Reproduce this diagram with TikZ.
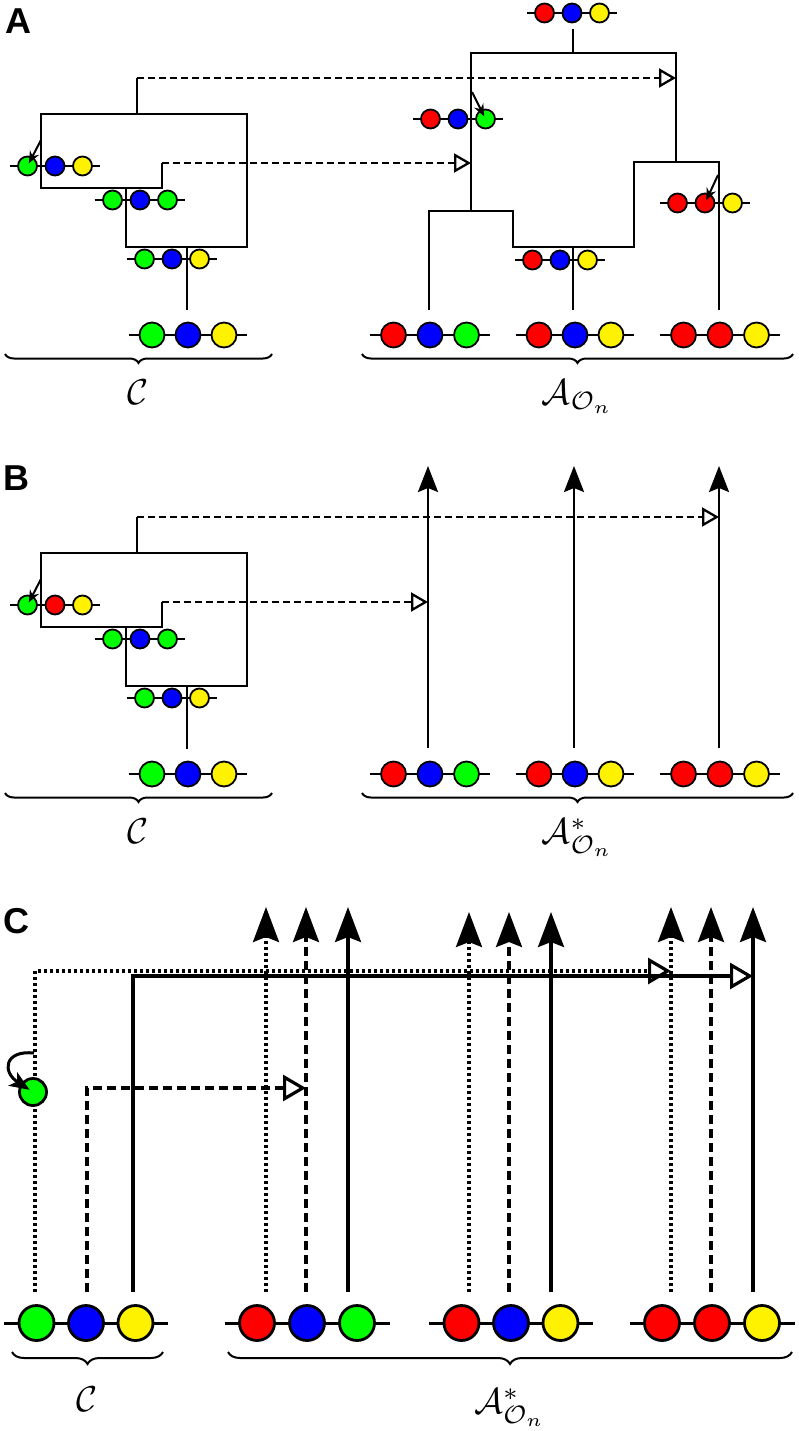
\documentclass[tikz,border=0pt]{standalone}
\usepackage{fontspec}
\newfontfamily\panelfont{Liberation Sans}
\usetikzlibrary{arrows.meta}
\usetikzlibrary{decorations.pathreplacing}
\usetikzlibrary{calc}
\tikzset{
  bead/.style={circle, draw=black, line width=1.8pt, inner sep=0pt},
  backbone/.style={line width=1.8pt},
  tree/.style={line width=2.3pt},
  xfer/.style={line width=2.3pt, dash pattern=on 7pt off 4pt, -{Triangle[open,length=17pt,width=19pt]}},
  lineage/.style={line width=2.3pt, -{Stealth[length=26pt,width=20pt,inset=4pt]}},
  mutation/.style={line width=2pt, shorten >=3pt, -{Stealth[length=12pt,width=10pt]}},
  brc/.style={decorate, decoration={brace, mirror, amplitude=9pt}, line width=2pt},
  setlabel/.style={midway, below=#1, inner sep=0pt, scale=3.6},
  setlabel/.default=22pt,
  panel/.style={inner sep=0pt, font=\panelfont\bfseries\fontsize{36}{40}\selectfont},
  cdot/.style={line width=3.2pt, dash pattern=on 3pt off 3pt},
  cdash/.style={line width=3.2pt, dash pattern=on 9pt off 5pt},
  csolid/.style={line width=3.2pt},
  ctip/.style={-{Stealth[length=35pt,width=26pt,inset=5pt]}},
  copen/.style={-{Triangle[open,length=23pt,width=26pt]}},
}
\newcommand{\chain}[7]{
  \coordinate (#1) at (#2);
  \draw[backbone] ([xshift=-1.65*#3]#1) -- ([xshift=1.65*#3]#1);
  \node (#1-1) [bead, minimum size=#4, fill=#5] at ([xshift=-#3]#1) {};
  \node (#1-2) [bead, minimum size=#4, fill=#6] at (#1) {};
  \node (#1-3) [bead, minimum size=#4, fill=#7] at ([xshift=#3]#1) {};
}

\begin{document}
\begin{tikzpicture}[x=1pt, y=-1pt]
  \useasboundingbox (0,0) rectangle (798,1431);

  \node (pA) [panel] at (18,21)  {A};
  \node (pB) [panel] at (16,478) {B};
  \node (pC) [panel] at (16,921) {C};

  \coordinate (aroot) at (137,78);
  \coordinate (aleaf) at (162,163);
  \coordinate (amut)  at (41,140);
  \coordinate (rtop)  at (676,78);
  \coordinate (rleft) at (471,163);
  \coordinate (rmut1) at (472,92);
  \coordinate (rmut2) at (718,175);

  \draw[tree] (aroot) -- (137,114);
  \draw[tree] (aleaf) -- (162,188) -- (41,188) -- (41,114) -- (247,114) -- (247,247) -- (126,247) -- (126,188);
  \draw[tree] (187,247) -- (187,310);
  \draw[tree] (573,29) -- (573,53);
  \draw[tree] (471,211) -- (471,53) -- (676,53) -- (676,162);
  \draw[tree] (429,310) -- (429,211) -- (513,211) -- (513,247) -- (634,247) -- (634,162) -- (719,162) -- (719,310);
  \draw[tree] (573,247) -- (573,310);
  \draw[xfer] (aroot) -- (rtop);
  \draw[xfer] (aleaf) -- (rleft);

  \chain{a1}{55,166}{27.5pt}{19pt}{green}{blue}{yellow}
  \chain{a2}{140,200}{27.5pt}{19pt}{green}{blue}{green}
  \chain{a3}{172,259}{27.5pt}{19pt}{green}{blue}{yellow}
  \chain{atop}{572,13}{27.5pt}{19pt}{red}{blue}{yellow}
  \chain{al}{458,119}{27.5pt}{19pt}{red}{blue}{green}
  \chain{ar}{705,203}{27.5pt}{19pt}{red}{red}{yellow}
  \chain{ab}{560,260}{27.5pt}{19pt}{red}{blue}{yellow}
  \chain{ac}{188,335}{36pt}{25pt}{green}{blue}{yellow}
  \chain{ao1}{430,335}{36.5pt}{25pt}{red}{blue}{green}
  \chain{ao2}{575,335}{36pt}{25pt}{red}{blue}{yellow}
  \chain{ao3}{720,335}{36.5pt}{25pt}{red}{red}{yellow}

  \draw[mutation] (amut) -- (a1-1.center);
  \draw[mutation] (rmut1) -- (al-3.center);
  \draw[mutation] (rmut2) -- (ar-2.center);

  \draw[brc] (5,354) -- (272,354) node (setA1) [setlabel] {$\mathcal{C}$};
  \draw[brc] (362,354) -- (793,354) node (setA2) [setlabel] {$\mathcal{A}_{\mathcal{O}_n}$};

  \begin{scope}[yshift=-439pt]
    \coordinate (broot) at (137,78);
    \coordinate (bleaf) at (162,163);
    \coordinate (bmut)  at (41,140);
    \coordinate (btop)  at (719,78);
    \coordinate (bleft) at (428,163);

    \draw[tree] (broot) -- (137,114);
    \draw[tree] (bleaf) -- (162,188) -- (41,188) -- (41,114) -- (247,114) -- (247,247) -- (126,247) -- (126,188);
    \draw[tree] (187,247) -- (187,310);
    \foreach \x in {428,574,719}
      \draw[lineage] (\x,309) -- (\x,27);
    \draw[xfer] (broot) -- (btop);
    \draw[xfer] (bleaf) -- (bleft);

    \chain{b1}{55,166}{27.5pt}{19pt}{green}{red}{yellow}
    \chain{b2}{140,200}{27.5pt}{19pt}{green}{blue}{green}
    \chain{b3}{172,259}{27.5pt}{19pt}{green}{blue}{yellow}
    \chain{bc}{188,335}{36pt}{25pt}{green}{blue}{yellow}
    \chain{bo1}{430,335}{36.5pt}{25pt}{red}{blue}{green}
    \chain{bo2}{575,335}{36pt}{25pt}{red}{blue}{yellow}
    \chain{bo3}{720,335}{36.5pt}{25pt}{red}{red}{yellow}

    \draw[mutation] (bmut) -- (b1-1.center);

    \draw[brc] (5,354) -- (272,354) node (setB1) [setlabel] {$\mathcal{C}$};
    \draw[brc] (362,354) -- (793,354) node (setB2) [setlabel] {$\mathcal{A}^*_{\mathcal{O}_n}$};
  \end{scope}

  \foreach \x/\t in {266/907, 469/912, 671/907} {
    \draw[cdot, ctip] (\x,1292) -- (\x,\t);
    \draw[cdash, ctip] (\x+40,1292) -- (\x+40,\t);
    \draw[csolid, ctip] (\x+82,1292) -- (\x+82,\t);
  }
  \draw[cdot, copen] (35,1292) -- (35,971) -- (671,971);
  \draw[cdash, copen] (87,1292) -- (87,1088) -- (306,1088);
  \draw[csolid, copen] (133,1292) -- (133,976) -- (753,976);

  \begin{scope}[bead/.append style={line width=2.8pt}, backbone/.append style={line width=3pt}]
    \node (gc) [bead, minimum size=27pt, fill=green] at (33,1092) {};
    \coordinate (hook) at (34,1053);
    \draw[line width=3pt, shorten >=4pt, -{Stealth[length=20pt,width=16pt,inset=5pt]}] (hook) .. controls (4,1050) and (2,1072) .. (gc.center);
    \chain{c0}{86,1323}{49.5pt}{35pt}{green}{blue}{yellow}
    \chain{c1}{307,1323}{50pt}{35pt}{red}{blue}{green}
    \chain{c2}{511,1323}{49.5pt}{35pt}{red}{blue}{yellow}
    \chain{c3}{712,1323}{50pt}{35pt}{red}{red}{yellow}
  \end{scope}

  \draw[brc, decoration={amplitude=12pt}] (12,1352) -- (163,1352) node (setC1) [setlabel=31pt] {$\mathcal{C}$};
  \draw[brc, decoration={amplitude=12pt}] (228,1352) -- (792,1352) node (setC2) [setlabel=33pt] {$\mathcal{A}^*_{\mathcal{O}_n}$};
\end{tikzpicture}
\end{document}
